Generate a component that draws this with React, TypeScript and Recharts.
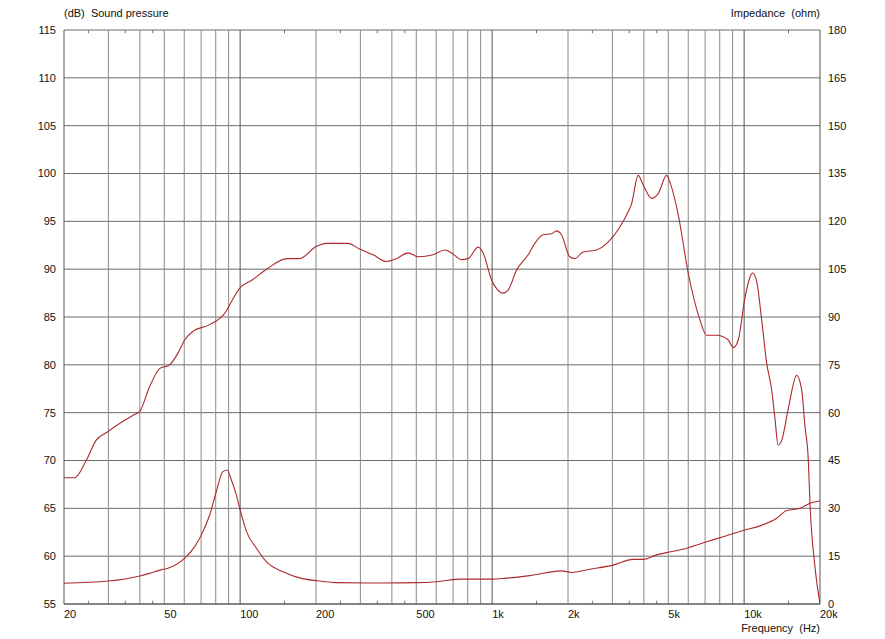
import { LineChart, Line, XAxis, YAxis, CartesianGrid, ReferenceLine } from 'recharts'

// sound pressure curve (Hz / dB)
const splFreq = [
  20, 22, 24.5, 26.8, 29.8, 34.8, 38.1, 39.9, 43.7, 47.9, 52.5, 56.6, 60.2, 64.9, 75.7, 88, 92.3, 99.5,
  112, 129, 153, 172, 201, 220, 268, 298, 337, 381, 417, 464, 508, 583, 649, 690, 755, 803, 879, 921,
  994, 1040, 1106, 1157, 1250, 1390, 1476, 1594, 1720, 1800, 1884, 2032, 2128, 2296, 2594, 2930, 3212,
  3467, 3573, 3798, 3975, 4293, 4560, 4924, 5072, 5475, 5998, 6676, 7096, 7778, 8650, 9058, 9477, 10072,
  10808, 11216, 11738, 12280, 12860, 13250, 13646, 14094, 14964, 16164, 16912, 17444, 17976, 18252,
  19100, 20000,
]
const splDb = [
  68.2, 68.2, 70.0, 72.1, 73.0, 74.2, 74.8, 75.1, 77.7, 79.6, 80.0, 81.2, 82.6, 83.5, 84.2, 85.6, 86.6, 88.0,
  88.9, 90.1, 91.1, 91.1, 92.4, 92.7, 92.7, 92.1, 91.5, 90.8, 91.1, 91.7, 91.3, 91.5, 92.0, 91.7, 91.0, 91.1,
  92.3, 91.7, 88.9, 88.0, 87.5, 87.8, 89.9, 91.5, 92.7, 93.6, 93.7, 94.0, 93.6, 91.3, 91.1, 91.8, 92.0, 93.0,
  94.4, 96.0, 96.8, 99.8, 98.8, 97.4, 97.9, 99.8, 99.1, 95.7, 89.6, 84.7, 83.1, 83.1, 82.6, 81.8, 82.6, 87.0,
  89.6, 88.7, 84.7, 80.2, 77.4, 74.4, 71.6, 72.1, 75.4, 78.9, 77.4, 73.5, 70.0, 65.5, 58.9, 55.0,
]

// impedance curve (Hz / ohm)
const impFreq = [
  20, 30, 40, 43.7, 48.6, 51.7, 60, 66, 70.1, 75.7, 80.4, 85.4, 88.9, 92.3, 96.6, 100, 106, 116, 127, 148,
  172, 201, 241, 369, 500, 600, 750, 1000, 1122, 1411, 1884, 2066, 2444, 3020, 3628, 3975, 4494, 4924, 5912,
  7096, 8260, 10072, 11560, 13460, 14760, 16640, 18252, 20000,
]
const impOhm = [
  6.5, 7.2, 8.8, 9.6, 10.7, 11.2, 14.2, 18.0, 21.6, 27.9, 35.2, 41.5, 42.0, 38.9, 34.2, 29.5, 22.7, 17.5, 13.3,
  10.1, 8.2, 7.3, 6.7, 6.6, 6.7, 7.0, 7.8, 7.8, 8.05, 8.9, 10.4, 9.9, 10.9, 12.2, 14.0, 14.0, 15.4, 16.1, 17.5,
  19.5, 21.1, 23.2, 24.5, 26.9, 29.3, 30.0, 31.6, 32.3,
]

const freqTicks = [20, 50, 100, 200, 500, 1000, 2000, 5000, 10000, 20000]
const dbTicks = [55, 60, 65, 70, 75, 80, 85, 90, 95, 100, 105, 110, 115]
const ohmTicks = [0, 15, 30, 45, 60, 75, 90, 105, 120, 135, 150, 165, 180]
const gridFreqs = [30, 40, 50, 60, 70, 80, 90, 200, 300, 400, 500, 600, 700, 800, 900, 2000, 3000, 4000, 5000, 6000, 7000, 8000, 9000]
const decadeFreqs = [100, 1000, 10000]
const minorFreqs = [25, 35, 45, 150, 250, 350, 450, 1500, 2500, 3500, 4500, 15000]

const splData = splFreq.map((f, i) => ({ f, db: splDb[i] }))
const impData = impFreq.map((f, i) => ({ f, ohm: impOhm[i] }))

const font = '"Liberation Sans", Arial, sans-serif'
const curveColor = '#ad2a2c'

const fmtFreq = (v: number) => (v >= 1000 ? `${v / 1000}k` : `${v}`)

// x labels start at their tick, not centred on it
function FreqTick({ x, y, payload }: any) {
  return (
    <text x={x} y={y + 5.5} textAnchor="start" fontSize={11} fill="#111" fontFamily={font}>
      {fmtFreq(payload.value)}
    </text>
  )
}

export default function App() {
  const tickStyle = { fontSize: 11, fill: '#111', fontFamily: font }
  return (
    <div style={{ position: 'absolute', left: 0, top: 0, width: 885, height: 639, background: '#fff', fontFamily: font }}>
      <LineChart width={885} height={639} margin={{ top: 30, right: 0, bottom: 0, left: 0 }}>
        <CartesianGrid yAxisId="left" vertical={false} stroke="#6a6a6a" />
        <XAxis
          dataKey="f"
          type="number"
          scale="log"
          domain={[20, 20000]}
          allowDataOverflow
          ticks={freqTicks}
          tick={<FreqTick />}
          tickLine={false}
          height={35}
          axisLine={{ stroke: '#555' }}
        />
        <YAxis
          yAxisId="left"
          domain={[55, 115]}
          ticks={dbTicks}
          tick={tickStyle}
          tickLine={false}
          width={64}
          axisLine={{ stroke: '#555' }}
          allowDataOverflow
        />
        <YAxis
          yAxisId="right"
          orientation="right"
          domain={[0, 180]}
          ticks={ohmTicks}
          tick={tickStyle}
          tickLine={false}
          width={65}
          axisLine={{ stroke: '#555' }}
          allowDataOverflow
        />
        {gridFreqs.map((f) => (
          <ReferenceLine key={`g${f}`} yAxisId="left" x={f} stroke="#8a8a8a" />
        ))}
        {decadeFreqs.map((f) => (
          <ReferenceLine key={`d${f}`} yAxisId="left" x={f} stroke="#555" />
        ))}
        {minorFreqs.map((f) => (
          <ReferenceLine key={`mb${f}`} yAxisId="left" segment={[{ x: f, y: 55 }, { x: f, y: 55.35 }]} stroke="#777" />
        ))}
        {minorFreqs.map((f) => (
          <ReferenceLine key={`mt${f}`} yAxisId="left" segment={[{ x: f, y: 115 }, { x: f, y: 114.65 }]} stroke="#777" />
        ))}
        <Line
          yAxisId="left"
          data={splData}
          dataKey="db"
          type="monotone"
          stroke={curveColor}
          strokeWidth={1.1}
          dot={false}
          activeDot={false}
          isAnimationActive={false}
        />
        <Line
          yAxisId="right"
          data={impData}
          dataKey="ohm"
          type="monotone"
          stroke={curveColor}
          strokeWidth={1.1}
          dot={false}
          activeDot={false}
          isAnimationActive={false}
        />
      </LineChart>
      <div style={{ position: 'absolute', left: 64, top: 7, fontSize: 11, lineHeight: '13px', color: '#111', whiteSpace: 'pre' }}>
        (dB)  Sound pressure
      </div>
      <div style={{ position: 'absolute', right: 65, top: 7, fontSize: 11, lineHeight: '13px', color: '#111', whiteSpace: 'pre' }}>
        Impedance  (ohm)
      </div>
      <div style={{ position: 'absolute', right: 65, top: 622, fontSize: 11, lineHeight: '13px', color: '#111', whiteSpace: 'pre' }}>
        Frequency  (Hz)
      </div>
    </div>
  )
}
